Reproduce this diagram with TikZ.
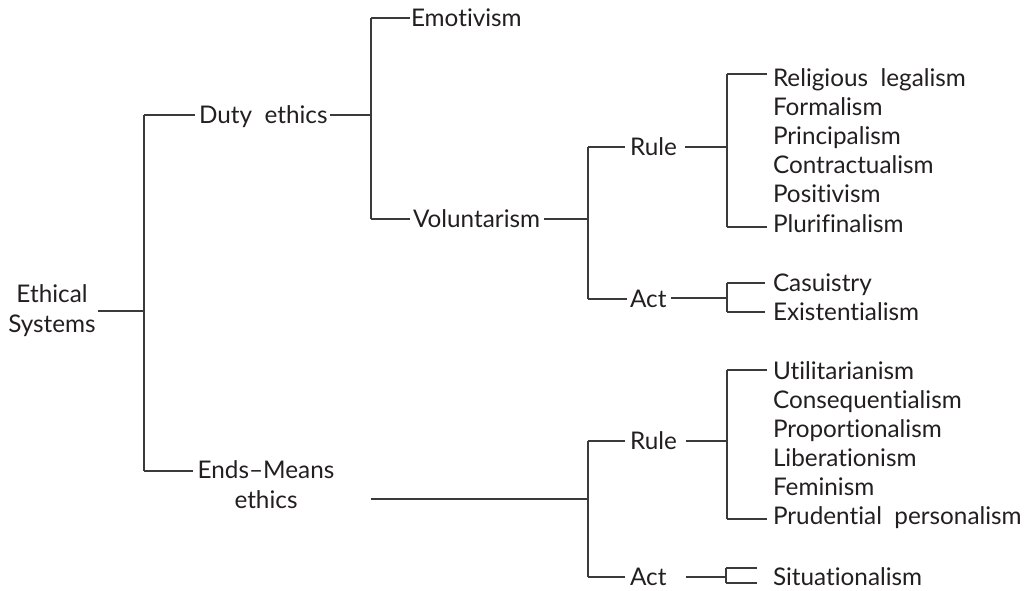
\documentclass[tikz,border=0pt]{standalone}
\usepackage{fontspec}
\setmainfont{Lato}[WordSpace=2.0, Ligatures=NoCommon]
\definecolor{ink}{HTML}{231F20}
\definecolor{rule}{HTML}{3A3A3A}
\begin{document}
\begin{tikzpicture}[x=1pt,y=-1pt,
  lbl/.style={font=\fontsize{24.3}{29.2}\selectfont, inner sep=0pt, outer sep=0pt, anchor=base west, text=ink},
  link/.style={draw=rule, line width=1.3pt}]
\useasboundingbox (0,0) rectangle (1026,590);
% junctions
\coordinate (r) at (144,311); \coordinate (rt) at (144,115); \coordinate (rb) at (144,471);
\coordinate (d) at (371,115); \coordinate (dt) at (371,18); \coordinate (db) at (371,219);
\coordinate (v) at (588,219); \coordinate (vt) at (588,147); \coordinate (vb) at (588,299);
\coordinate (ru) at (727,147); \coordinate (rut) at (727,74); \coordinate (rub) at (727,227);
\coordinate (ac) at (727,298); \coordinate (act) at (727,283); \coordinate (acb) at (727,312);
\coordinate (em0) at (371,499); \coordinate (e) at (588,499); \coordinate (et) at (588,441); \coordinate (eb) at (588,577);
\coordinate (rv) at (727,441); \coordinate (rvt) at (727,370); \coordinate (rvb) at (727,519);
\coordinate (aw) at (726,577); \coordinate (awt) at (726,568); \coordinate (awb) at (726,583);
% labels
\node[lbl, anchor=base, align=center] (eth) at (52,332) {Ethical\\Systems};
\node[lbl] (dut) at (199,123) {Duty ethics};
\node[lbl, anchor=base, align=center] (em) at (266,508) {Ends–Means\\ethics};
\node[lbl] (emo) at (411,26) {Emotivism};
\node[lbl] (vol) at (413,227) {Voluntarism};
\node[lbl] (rl1) at (630,155) {Rule};
\node[lbl] (ac1) at (630,307) {Act};
\node[lbl] (rl2) at (630,449) {Rule};
\node[lbl] (ac2) at (630,585) {Act};
\node[lbl] (l1) at (773,86) {Religious legalism};
\node[lbl] (l2) at (773,115.2) {Formalism};
\node[lbl] (l3) at (773,144.4) {Principalism};
\node[lbl] (l4) at (773,173.6) {Contractualism};
\node[lbl] (l5) at (773,202.8) {Positivism};
\node[lbl] (l6) at (773,232) {Plurifinalism};
\node[lbl] (c1) at (773,291) {Casuistry};
\node[lbl] (c2) at (773,320) {Existentialism};
\node[lbl] (u1) at (773,379) {Utilitarianism};
\node[lbl] (u2) at (773,408) {Consequentialism};
\node[lbl] (u3) at (773,437) {Proportionalism};
\node[lbl] (u4) at (773,466) {Liberationism};
\node[lbl] (u5) at (773,495) {Feminism};
\node[lbl] (u6) at (773,524) {Prudential personalism};
\node[lbl] (s1) at (773,585) {Situationalism};
% connectors
\draw[link, shorten <=2pt] (eth.east |- r) -- (r);
\draw[link] (rt) -- (rb);
\draw[link, shorten >=4pt] (rt) -- (rt -| dut.west);
\draw[link, shorten >=5pt] (rb) -- (rb -| em.west);
\draw[link, shorten <=3pt] (dut.east |- d) -- (d);
\draw[link] (dt) -- (db);
\draw[link, shorten >=1pt] (dt) -- (dt -| emo.west);
\draw[link, shorten >=3pt] (db) -- (db -| vol.west);
\draw[link, shorten <=4pt] (vol.east |- v) -- (v);
\draw[link] (vt) -- (vb);
\draw[link, shorten >=5pt] (vt) -- (vt -| rl1.west);
\draw[link, shorten >=3pt] (vb) -- (vb -| ac1.west);
\draw[link, shorten <=8pt] (rl1.east |- ru) -- (ru);
\draw[link] (rut) -- (rub);
\draw[link, shorten >=6pt] (rut) -- (rut -| l1.west);
\draw[link, shorten >=6pt] (rub) -- (rub -| l6.west);
\draw[link, shorten <=5pt] (ac1.east |- ac) -- (ac);
\draw[link] (act) -- (acb);
\draw[link, shorten >=8pt] (act) -- (act -| c1.west);
\draw[link, shorten >=8pt] (acb) -- (acb -| c2.west);
\draw[link] (em0) -- (e);
\draw[link] (et) -- (eb);
\draw[link, shorten >=5pt] (et) -- (et -| rl2.west);
\draw[link, shorten >=5pt] (eb) -- (eb -| ac2.west);
\draw[link, shorten <=9pt] (rl2.east |- rv) -- (rv);
\draw[link] (rvt) -- (rvb);
\draw[link, shorten >=6pt] (rvt) -- (rvt -| u1.west);
\draw[link, shorten >=6pt] (rvb) -- (rvb -| u6.west);
\draw[link, shorten <=20pt] (ac2.east |- aw) -- (aw);
\draw[link] (awt) -- (awb);
\draw[link, shorten >=16pt] (awt) -- (awt -| s1.west);
\draw[link, shorten >=16pt] (awb) -- (awb -| s1.west);
\end{tikzpicture}
\end{document}
